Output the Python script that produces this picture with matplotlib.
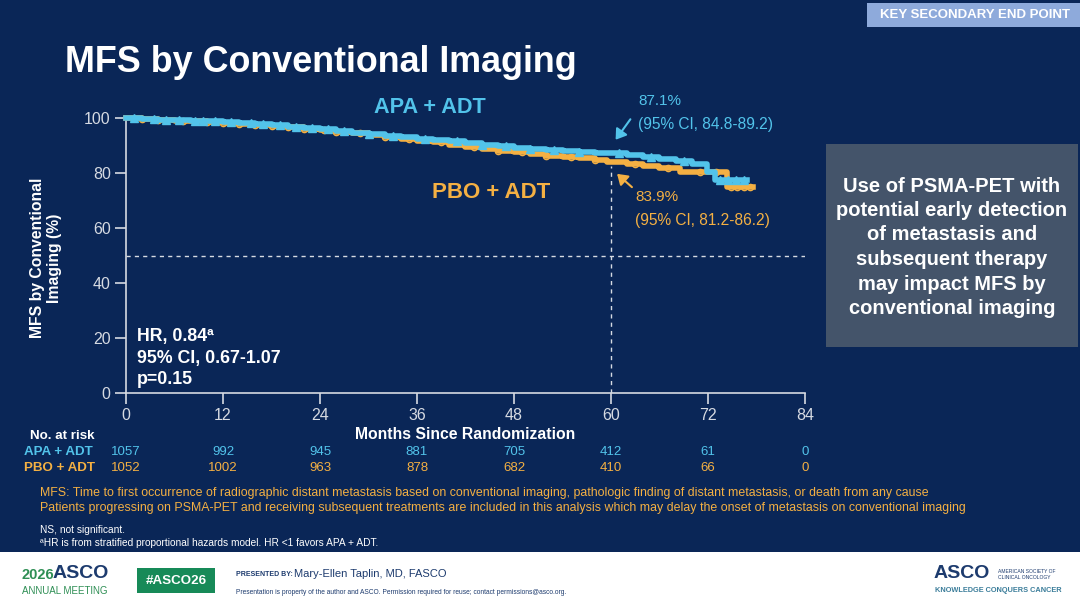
import numpy as np
import matplotlib
matplotlib.use("Agg")
import matplotlib.pyplot as plt
from matplotlib.patches import Rectangle

plt.rcParams['font.family'] = ['Liberation Sans', 'DejaVu Sans']

# ---- data ----
apa_time = [0, 2, 4, 6, 8, 10, 12, 14, 16, 18, 20, 22, 24, 26, 28, 30, 32, 34, 36, 38,
            40, 42, 44, 46, 48, 50, 52, 54, 56, 58, 60, 62, 64, 66, 68, 70, 71.9, 72.9, 76.8]
apa_surv = [100, 99.6, 99.4, 99.1, 98.9, 98.8, 98.5, 98.1, 97.7, 97.3, 96.9, 96.4, 95.9,
            95.3, 94.7, 94.1, 93.5, 93.0, 92.5, 92.0, 91.5, 90.9, 90.3, 89.7, 89.1, 88.6,
            88.2, 87.9, 87.6, 87.4, 87.1, 86.5, 85.8, 85.0, 84.2, 83.4, 80.5, 77.4, 77.4]
pbo_time = [0, 2, 4, 6, 8, 10, 12, 14, 16, 18, 20, 22, 24, 26, 28, 30, 32, 34, 36, 38,
            40, 42, 44, 46, 48, 50, 52, 54, 56, 58, 59.5, 62, 64, 66, 68.5, 74.3, 77.6]
pbo_surv = [100, 99.6, 99.3, 99.0, 98.8, 98.6, 98.3, 97.9, 97.5, 97.1, 96.6, 96.1, 95.6,
            95.0, 94.4, 93.7, 93.0, 92.4, 91.8, 91.1, 90.3, 89.5, 88.8, 88.1, 87.5, 86.9,
            86.3, 85.8, 85.3, 84.6, 83.9, 83.3, 82.6, 82.0, 80.5, 75.0, 75.0]
apa_censor = [1, 3.5, 5, 6.5, 8.5, 9.5, 11, 13, 15.5, 17, 19, 21, 23, 25, 27, 30, 33, 37,
              41, 44, 47, 50, 53, 56, 61, 65, 69, 73.5, 74.5, 75.5, 76.5]
pbo_censor = [2, 4, 7, 10, 12, 14, 16, 18, 20, 22, 24.5, 26, 29, 32, 35, 39, 43, 46, 49,
              52, 55, 58, 63, 67, 71, 73, 74.8, 75.6, 76.4, 77.2]

months = [0, 12, 24, 36, 48, 60, 72, 84]
apa_risk = [1057, 992, 945, 881, 705, 412, 61, 0]
pbo_risk = [1052, 1002, 963, 878, 682, 410, 66, 0]

# ---- colours ----
NAVY = '#0a2657'
CYAN = '#52c3ea'
ORANGE = '#f4b043'
TXT = '#d6dae2'
W, H = 1080, 608


def fx(x):
    return x / W


def fy(y):
    return 1 - y / H


def step_value(times, surv, t):
    i = np.searchsorted(times, t, side='right') - 1
    return np.asarray(surv)[i]


fig = plt.figure(figsize=(10.8, 6.08), dpi=100, facecolor=NAVY)

# title and banner
fig.text(fx(65), fy(62), "MFS by Conventional Imaging", color='white', fontsize=25.8,
         fontweight='bold', va='center', ha='left')
fig.patches.append(Rectangle((fx(867), fy(27)), fx(213), 24 / H, transform=fig.transFigure,
                             facecolor='#8eaadb', edgecolor='none'))
fig.text(fx(975), fy(15), "KEY SECONDARY END POINT", color='white', fontsize=9.5,
         fontweight='bold', ha='center', va='center')

# grey message box
fig.patches.append(Rectangle((fx(826), fy(347)), fx(252), 203 / H, transform=fig.transFigure,
                             facecolor='#44546a', edgecolor='none'))
box_lines = ["Use of PSMA-PET with", "potential early detection", "of metastasis and",
             "subsequent therapy", "may impact MFS by", "conventional imaging"]
for i, line in enumerate(box_lines):
    fig.text(fx(952), fy(186 + i * 24.5), line, color='white', fontsize=14.5,
             fontweight='bold', ha='center', va='center')

# ---- KM axes ----
ax = fig.add_axes([fx(126), fy(393), fx(679), 275 / H])
ax.set_facecolor(NAVY)
ax.set_xlim(0, 84)
ax.set_ylim(0, 100)
ax.set_xticks(months)
ax.set_yticks([0, 20, 40, 60, 80, 100])
for side in ['top', 'right']:
    ax.spines[side].set_visible(False)
for side in ['left', 'bottom']:
    ax.spines[side].set_color(TXT)
    ax.spines[side].set_linewidth(1.2)
ax.tick_params(colors=TXT, labelsize=11.5, length=8, width=1.2, pad=3)

ax.axhline(50, color=TXT, lw=1, ls=(0, (3, 3)), xmax=1)
ax.plot([60, 60], [0, 82.5], color=TXT, lw=1, ls=(0, (3, 3)))

ax.step(pbo_time, pbo_surv, where='post', color=ORANGE, lw=4, clip_on=False, zorder=3)
ax.plot(pbo_censor, step_value(pbo_time, pbo_surv, pbo_censor), 'o', ms=4.5, mfc='none',
        mec=ORANGE, mew=1, clip_on=False, zorder=4)
ax.step(apa_time, apa_surv, where='post', color=CYAN, lw=4, clip_on=False, zorder=5)
ax.plot(apa_censor, step_value(apa_time, apa_surv, apa_censor), '^', ms=5.5, color=CYAN,
        clip_on=False, zorder=6)

ax.set_xlabel("Months Since Randomization", color='white', fontsize=11.3,
              fontweight='bold', labelpad=3)
fig.text(fx(46), fy(258), "MFS by Conventional\nImaging (%)", color='white', fontsize=11.3,
         fontweight='bold', rotation=90, ha='center', va='center', linespacing=1.15)

# curve labels and annotations
fig.text(fx(430), fy(108), "APA + ADT", color=CYAN, fontsize=15.6, fontweight='bold',
         ha='center', va='center')
fig.text(fx(491), fy(192), "PBO + ADT", color=ORANGE, fontsize=16, fontweight='bold',
         ha='center', va='center')
fig.text(fx(638), fy(101), "87.1%", color=CYAN, fontsize=11, ha='left', va='center')
fig.text(fx(638), fy(125), "(95% CI, 84.8-89.2)", color=CYAN, fontsize=11.2, ha='left',
         va='center')
fig.text(fx(635), fy(197), "83.9%", color=ORANGE, fontsize=11, ha='left', va='center')
fig.text(fx(635), fy(220), "(95% CI, 81.2-86.2)", color=ORANGE, fontsize=11.2, ha='left',
         va='center')
fig.add_artist(matplotlib.patches.FancyArrowPatch(
    (fx(632), fy(117)), (fx(614), fy(142)), transform=fig.transFigure,
    arrowstyle='-|>,head_length=6,head_width=4', color=CYAN, lw=1.5))
fig.add_artist(matplotlib.patches.FancyArrowPatch(
    (fx(634), fy(189)), (fx(615), fy(172)), transform=fig.transFigure,
    arrowstyle='-|>,head_length=6,head_width=4', color=ORANGE, lw=1.5))

for i, line in enumerate(["HR, 0.84ª", "95% CI, 0.67-1.07", "p=0.15"]):
    fig.text(fx(137), fy(337 + i * 21.5), line, color='white', fontsize=12.8,
             fontweight='bold', ha='left', va='center')

# number at risk
fig.text(fx(30), fy(436), "No. at risk", color='white', fontsize=9.6, fontweight='bold',
         va='center')
fig.text(fx(24), fy(452), "APA + ADT", color=CYAN, fontsize=9.6, fontweight='bold',
         va='center')
fig.text(fx(24), fy(468), "PBO + ADT", color=ORANGE, fontsize=9.6, fontweight='bold',
         va='center')
for m, a, p in zip(months, apa_risk, pbo_risk):
    xp = ax.transData.transform((m, 0))[0] / fig.dpi / fig.get_figwidth()
    fig.text(xp, fy(452), str(a), color=CYAN, fontsize=9.5, ha='center', va='center')
    fig.text(xp, fy(468), str(p), color=ORANGE, fontsize=9.5, ha='center', va='center')

# footnotes
fig.text(fx(40), fy(493), "MFS: Time to first occurrence of radiographic distant metastasis "
         "based on conventional imaging, pathologic finding of distant metastasis, or death "
         "from any cause", color=ORANGE, fontsize=8.95, va='center')
fig.text(fx(40), fy(508), "Patients progressing on PSMA-PET and receiving subsequent "
         "treatments are included in this analysis which may delay the onset of metastasis "
         "on conventional imaging", color=ORANGE, fontsize=8.95, va='center')
fig.text(fx(40), fy(530), "NS, not significant.", color='white', fontsize=7.3, va='center')
fig.text(fx(40), fy(543), "ªHR is from stratified proportional hazards model. HR <1 favors "
         "APA + ADT.", color='white', fontsize=7.3, va='center')

# white footer band
fig.patches.append(Rectangle((0, 0), 1, 56 / H, transform=fig.transFigure,
                             facecolor='white', edgecolor='none'))
GREEN = '#2f8f55'
DNAVY = '#1d3b6e'
fig.text(fx(22), fy(575), "2026", color=GREEN, fontsize=10.5, fontweight='bold', va='center')
fig.text(fx(53), fy(574), "ASCO", color=DNAVY, fontsize=14, fontweight='bold', va='center')
fig.text(fx(22), fy(591), "ANNUAL MEETING", color=GREEN, fontsize=7, va='center')
fig.patches.append(Rectangle((fx(137), fy(593)), fx(78), 25 / H, transform=fig.transFigure,
                             facecolor='#178a58', edgecolor='none'))
fig.text(fx(176), fy(580.5), "#ASCO26", color='white', fontsize=9.6, fontweight='bold',
         ha='center', va='center')
fig.text(fx(236), fy(575), "PRESENTED BY:", color=DNAVY, fontsize=5, fontweight='bold',
         va='center')
fig.text(fx(294), fy(574), "Mary-Ellen Taplin, MD, FASCO", color=DNAVY, fontsize=8,
         va='center')
fig.text(fx(236), fy(592), "Presentation is property of the author and ASCO. Permission "
         "required for reuse; contact permissions@asco.org.", color=DNAVY, fontsize=4.8,
         va='center')
fig.text(fx(934), fy(574), "ASCO", color=DNAVY, fontsize=14, fontweight='bold', va='center')
fig.text(fx(998), fy(574.5), "AMERICAN SOCIETY OF\nCLINICAL ONCOLOGY", color=DNAVY,
         fontsize=3.6, va='center', linespacing=1.3)
fig.text(fx(935), fy(591), "KNOWLEDGE CONQUERS CANCER", color='#3b7d9a', fontsize=5.3,
         fontweight='bold', va='center')

fig.savefig("out.png", dpi=100, facecolor=NAVY)
